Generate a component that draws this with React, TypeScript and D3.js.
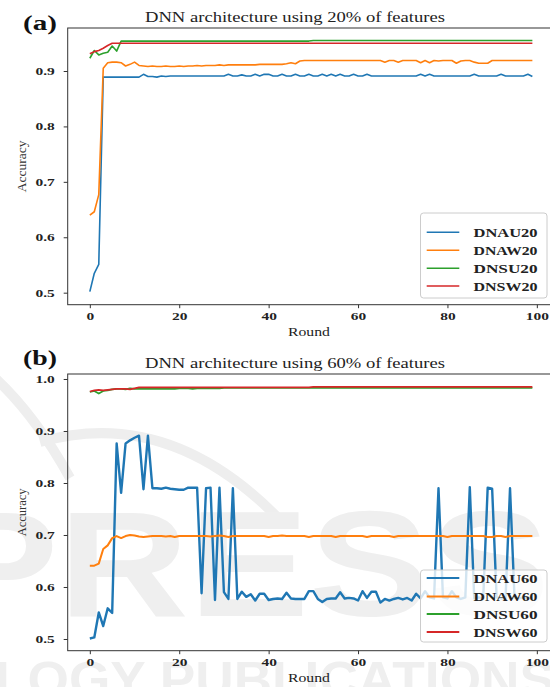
import React, { useEffect, useRef } from 'react';
import * as d3 from 'd3';

const rounds = d3.range(0, 100);
const xTicks = [0, 20, 40, 60, 80, 100];
const yTicksA = [0.5, 0.6, 0.7, 0.8, 0.9];
const yTicksB = [0.5, 0.6, 0.7, 0.8, 0.9, 1.0];

const seriesNamesA = ['DNAU20', 'DNAW20', 'DNSU20', 'DNSW20'];
const seriesNamesB = ['DNAU60', 'DNAW60', 'DNSU60', 'DNSW60'];
const colors = ['#1f77b4', '#ff7f0e', '#2ca02c', '#d62728'];

const DNAU20 = [
  0.502, 0.535, 0.551, 0.889, 0.889, 0.889, 0.889, 0.889, 0.889, 0.889,
  0.889, 0.889, 0.894, 0.890, 0.890, 0.889, 0.891, 0.890, 0.891, 0.891,
  0.891, 0.891, 0.891, 0.891, 0.891, 0.891, 0.891, 0.891, 0.891, 0.891,
  0.891, 0.894, 0.891, 0.891, 0.893, 0.891, 0.891, 0.894, 0.891, 0.894,
  0.894, 0.891, 0.891, 0.894, 0.891, 0.891, 0.894, 0.891, 0.891, 0.894,
  0.891, 0.891, 0.894, 0.891, 0.894, 0.891, 0.894, 0.891, 0.891, 0.894,
  0.891, 0.891, 0.894, 0.891, 0.891, 0.891, 0.891, 0.891, 0.891, 0.891,
  0.891, 0.891, 0.891, 0.891, 0.894, 0.891, 0.894, 0.891, 0.891, 0.891,
  0.891, 0.891, 0.891, 0.891, 0.891, 0.891, 0.894, 0.891, 0.891, 0.891,
  0.891, 0.891, 0.894, 0.891, 0.891, 0.891, 0.891, 0.891, 0.894, 0.890,
];
const DNAW20 = [
  0.640, 0.646, 0.677, 0.905, 0.915, 0.916, 0.916, 0.915, 0.909, 0.912,
  0.916, 0.910, 0.909, 0.908, 0.909, 0.908, 0.908, 0.909, 0.908, 0.908,
  0.909, 0.908, 0.909, 0.909, 0.910, 0.909, 0.910, 0.910, 0.910, 0.911,
  0.910, 0.911, 0.911, 0.911, 0.911, 0.911, 0.911, 0.911, 0.912, 0.912,
  0.912, 0.912, 0.912, 0.912, 0.913, 0.915, 0.913, 0.918, 0.919, 0.919,
  0.919, 0.919, 0.919, 0.919, 0.919, 0.919, 0.919, 0.919, 0.919, 0.919,
  0.919, 0.919, 0.919, 0.919, 0.919, 0.919, 0.916, 0.919, 0.919, 0.916,
  0.919, 0.919, 0.919, 0.919, 0.915, 0.919, 0.915, 0.919, 0.918, 0.919,
  0.919, 0.919, 0.914, 0.918, 0.919, 0.919, 0.916, 0.914, 0.914, 0.914,
  0.919, 0.919, 0.919, 0.919, 0.919, 0.919, 0.919, 0.919, 0.919, 0.919,
];
const DNSU20 = [
  0.923, 0.937, 0.929, 0.932, 0.934, 0.945, 0.936, 0.954, 0.954, 0.954,
  0.954, 0.954, 0.954, 0.954, 0.954, 0.954, 0.954, 0.954, 0.954, 0.954,
  0.954, 0.954, 0.954, 0.954, 0.954, 0.954, 0.954, 0.954, 0.954, 0.954,
  0.954, 0.954, 0.954, 0.954, 0.954, 0.954, 0.954, 0.954, 0.954, 0.954,
  0.954, 0.954, 0.954, 0.954, 0.954, 0.954, 0.954, 0.954, 0.954, 0.954,
  0.955, 0.955, 0.955, 0.955, 0.955, 0.955, 0.955, 0.955, 0.955, 0.955,
  0.955, 0.955, 0.955, 0.955, 0.955, 0.955, 0.955, 0.955, 0.955, 0.955,
  0.955, 0.955, 0.955, 0.955, 0.955, 0.955, 0.955, 0.955, 0.955, 0.955,
  0.955, 0.955, 0.955, 0.955, 0.955, 0.955, 0.955, 0.955, 0.955, 0.955,
  0.955, 0.955, 0.955, 0.955, 0.955, 0.955, 0.955, 0.955, 0.955, 0.955,
];
const DNSW20 = [
  0.931, 0.935, 0.937, 0.941, 0.946, 0.950, 0.950, 0.950, 0.950, 0.950,
  0.950, 0.950, 0.950, 0.950, 0.950, 0.950, 0.950, 0.950, 0.950, 0.950,
  0.950, 0.950, 0.950, 0.950, 0.950, 0.950, 0.950, 0.950, 0.950, 0.950,
  0.950, 0.950, 0.950, 0.950, 0.950, 0.950, 0.950, 0.950, 0.950, 0.950,
  0.950, 0.950, 0.950, 0.950, 0.950, 0.950, 0.950, 0.950, 0.950, 0.950,
  0.950, 0.950, 0.950, 0.950, 0.950, 0.950, 0.950, 0.950, 0.950, 0.950,
  0.950, 0.950, 0.950, 0.950, 0.950, 0.950, 0.950, 0.950, 0.950, 0.950,
  0.950, 0.950, 0.950, 0.950, 0.950, 0.950, 0.950, 0.950, 0.950, 0.950,
  0.950, 0.950, 0.950, 0.950, 0.950, 0.950, 0.950, 0.950, 0.950, 0.950,
  0.950, 0.950, 0.950, 0.950, 0.950, 0.950, 0.950, 0.950, 0.950, 0.950,
];

const DNAU60 = [
  0.501, 0.503, 0.551, 0.525, 0.559, 0.550, 0.876, 0.781, 0.876, 0.882,
  0.887, 0.891, 0.788, 0.891, 0.790, 0.790, 0.789, 0.791, 0.789, 0.788,
  0.787, 0.787, 0.791, 0.791, 0.791, 0.588, 0.790, 0.791, 0.575, 0.791,
  0.590, 0.577, 0.790, 0.577, 0.591, 0.581, 0.586, 0.574, 0.587, 0.587,
  0.575, 0.577, 0.578, 0.577, 0.589, 0.578, 0.577, 0.577, 0.577, 0.592,
  0.592, 0.577, 0.571, 0.577, 0.578, 0.578, 0.590, 0.578, 0.579, 0.578,
  0.574, 0.592, 0.579, 0.591, 0.591, 0.570, 0.577, 0.574, 0.577, 0.579,
  0.576, 0.579, 0.574, 0.587, 0.578, 0.592, 0.580, 0.578, 0.790, 0.580,
  0.578, 0.592, 0.580, 0.577, 0.580, 0.792, 0.578, 0.580, 0.578, 0.791,
  0.789, 0.580, 0.578, 0.578, 0.790, 0.580, 0.578, 0.580, 0.578, 0.580,
];
const DNAW60 = [
  0.641, 0.641, 0.645, 0.673, 0.680, 0.694, 0.698, 0.694, 0.698, 0.700,
  0.699, 0.697, 0.696, 0.697, 0.698, 0.698, 0.698, 0.697, 0.698, 0.696,
  0.698, 0.698, 0.698, 0.698, 0.698, 0.698, 0.698, 0.697, 0.698, 0.699,
  0.698, 0.696, 0.698, 0.698, 0.698, 0.698, 0.698, 0.698, 0.698, 0.698,
  0.696, 0.698, 0.698, 0.699, 0.698, 0.698, 0.698, 0.698, 0.698, 0.696,
  0.698, 0.698, 0.698, 0.698, 0.698, 0.696, 0.698, 0.698, 0.698, 0.698,
  0.698, 0.698, 0.696, 0.698, 0.698, 0.698, 0.698, 0.698, 0.696, 0.698,
  0.698, 0.698, 0.698, 0.698, 0.698, 0.698, 0.698, 0.698, 0.698, 0.698,
  0.696, 0.698, 0.698, 0.698, 0.698, 0.698, 0.698, 0.698, 0.698, 0.696,
  0.696, 0.698, 0.698, 0.696, 0.698, 0.698, 0.698, 0.698, 0.698, 0.698,
];
const DNSU60 = [
  0.975, 0.977, 0.972, 0.977, 0.978, 0.980, 0.981, 0.981, 0.980, 0.982,
  0.981, 0.981, 0.981, 0.981, 0.981, 0.981, 0.981, 0.981, 0.981, 0.981,
  0.982, 0.982, 0.982, 0.981, 0.982, 0.982, 0.982, 0.982, 0.982, 0.982,
  0.983, 0.983, 0.983, 0.983, 0.983, 0.983, 0.983, 0.983, 0.983, 0.983,
  0.983, 0.983, 0.983, 0.983, 0.983, 0.983, 0.983, 0.983, 0.983, 0.983,
  0.983, 0.983, 0.983, 0.983, 0.983, 0.983, 0.983, 0.983, 0.983, 0.983,
  0.983, 0.983, 0.983, 0.983, 0.983, 0.983, 0.983, 0.983, 0.983, 0.983,
  0.983, 0.983, 0.983, 0.983, 0.983, 0.983, 0.983, 0.983, 0.983, 0.983,
  0.983, 0.983, 0.983, 0.983, 0.983, 0.983, 0.983, 0.983, 0.983, 0.983,
  0.983, 0.983, 0.983, 0.983, 0.983, 0.983, 0.983, 0.983, 0.983, 0.983,
];
const DNSW60 = [
  0.976, 0.978, 0.979, 0.978, 0.979, 0.980, 0.981, 0.981, 0.981, 0.980,
  0.982, 0.984, 0.984, 0.984, 0.984, 0.984, 0.984, 0.984, 0.984, 0.984,
  0.984, 0.984, 0.984, 0.984, 0.984, 0.984, 0.984, 0.984, 0.984, 0.984,
  0.984, 0.984, 0.984, 0.984, 0.984, 0.984, 0.984, 0.984, 0.984, 0.984,
  0.984, 0.984, 0.984, 0.984, 0.984, 0.984, 0.984, 0.984, 0.984, 0.984,
  0.985, 0.985, 0.985, 0.985, 0.985, 0.985, 0.985, 0.985, 0.985, 0.985,
  0.985, 0.985, 0.985, 0.985, 0.985, 0.985, 0.985, 0.985, 0.985, 0.985,
  0.985, 0.985, 0.985, 0.985, 0.985, 0.985, 0.985, 0.985, 0.985, 0.985,
  0.985, 0.985, 0.985, 0.985, 0.985, 0.985, 0.985, 0.985, 0.985, 0.985,
  0.985, 0.985, 0.985, 0.985, 0.985, 0.985, 0.985, 0.985, 0.985, 0.985,
];

const SERIF = '"Liberation Serif", "Times New Roman", serif';
const SANS = '"Liberation Sans", Arial, sans-serif';

// the picture is stretched sideways, so widen glyphs a bit
const stretch = (sel, k) => {
  sel.each(function () {
    const w = this.getComputedTextLength();
    d3.select(this).attr('textLength', w * k).attr('lengthAdjust', 'spacingAndGlyphs');
  });
};

const App = () => {
  const svgRef = useRef(null);

  useEffect(() => {
    const svg = d3.select(svgRef.current);
    svg.selectAll('*').remove();

    // faint publisher watermark behind everything
    const wm = svg.append('g').attr('fill', '#efefef').attr('stroke', 'none');
    wm.append('path')
      .attr('d', 'M -5,378 Q 35,415 70,478')
      .attr('fill', 'none').attr('stroke', '#eeeeee').attr('stroke-width', 10);
    wm.append('path')
      .attr('d', 'M 40,442 Q 170,405 282,522')
      .attr('fill', 'none').attr('stroke', '#eeeeee').attr('stroke-width', 10);
    wm.append('text')
      .attr('x', -62).attr('y', 616)
      .attr('font-family', SANS).attr('font-weight', 'bold').attr('font-size', 150)
      .attr('textLength', 612).attr('lengthAdjust', 'spacingAndGlyphs')
      .text('PRESS');
    wm.append('text')
      .attr('x', -5).attr('y', 697)
      .attr('font-family', SANS).attr('font-weight', 'bold').attr('font-size', 50)
      .attr('textLength', 560).attr('lengthAdjust', 'spacingAndGlyphs')
      .text('LOGY PUBLICATIONS');

    const x = d3.scaleLinear().domain([-4.95, 103.95]).range([67.7, 554.5]);

    const drawPanel = (cfg) => {
      const { top, bottom, yDomain, yTicks, series, names, widths, tag, title, tagY, titleY, roundY, accFont, legend } = cfg;
      const y = d3.scaleLinear().domain(yDomain).range([bottom, top]);
      const g = svg.append('g');

      const line = d3.line().x((d, i) => x(rounds[i])).y((d) => y(d));
      series.forEach((s, i) => {
        g.append('path')
          .datum(s)
          .attr('d', line)
          .attr('fill', 'none')
          .attr('stroke', colors[i])
          .attr('stroke-width', widths[i])
          .attr('stroke-linejoin', 'round');
      });

      g.append('rect')
        .attr('x', x.range()[0]).attr('y', top)
        .attr('width', x.range()[1] - x.range()[0]).attr('height', bottom - top)
        .attr('fill', 'none').attr('stroke', '#333').attr('stroke-width', 1);

      const yAxis = g.append('g')
        .attr('transform', `translate(${x.range()[0]},0)`)
        .call(d3.axisLeft(y).tickValues(yTicks).tickSize(4).tickPadding(9).tickFormat(d3.format('.1f')));
      const xAxis = g.append('g')
        .attr('transform', `translate(0,${bottom})`)
        .call(d3.axisBottom(x).tickValues(xTicks).tickSize(3.5).tickPadding(3.7));
      [yAxis, xAxis].forEach((ax) => {
        ax.select('.domain').remove();
        ax.selectAll('line').attr('stroke', '#333');
        ax.selectAll('text')
          .attr('font-family', SERIF).attr('font-weight', 'bold').attr('font-size', 11).attr('fill', '#222');
        stretch(ax.selectAll('text'), 1.4);
      });

      g.append('text')
        .attr('x', 23).attr('y', tagY)
        .attr('font-family', SERIF).attr('font-weight', 'bold').attr('font-size', 20).attr('fill', '#111')
        .attr('textLength', 34).attr('lengthAdjust', 'spacingAndGlyphs')
        .text(tag);
      g.append('text')
        .attr('x', 295).attr('y', titleY)
        .attr('text-anchor', 'middle')
        .attr('font-family', SERIF).attr('font-size', 14).attr('fill', '#222')
        .attr('textLength', 300).attr('lengthAdjust', 'spacingAndGlyphs')
        .text(title);
      g.append('text')
        .attr('x', 309).attr('y', roundY)
        .attr('text-anchor', 'middle')
        .attr('font-family', SERIF).attr('font-size', 12).attr('fill', '#222')
        .attr('textLength', 42).attr('lengthAdjust', 'spacingAndGlyphs')
        .text('Round');
      g.append('text')
        .attr('transform', `translate(25.5,${(top + bottom) / 2}) rotate(-90)`)
        .attr('text-anchor', 'middle')
        .attr('font-family', SERIF).attr('font-size', accFont).attr('fill', '#333')
        .text('Accuracy');

      const lg = g.append('g');
      lg.append('rect')
        .attr('x', 420.5).attr('y', legend.y0)
        .attr('width', 126.5).attr('height', legend.y1 - legend.y0)
        .attr('rx', 3)
        .attr('fill', 'white').attr('fill-opacity', 0.8)
        .attr('stroke', '#cccccc').attr('stroke-width', 1);
      const items = lg.selectAll('.legend-item')
        .data(names)
        .enter()
        .append('g')
        .attr('class', 'legend-item')
        .attr('transform', (d, i) => `translate(0,${legend.rows[i]})`);
      items.append('line')
        .attr('x1', 426.7).attr('x2', 459.3)
        .attr('stroke', (d, i) => colors[i])
        .attr('stroke-width', legend.lw);
      items.append('text')
        .attr('x', 473.5).attr('y', 4.5)
        .attr('font-family', SERIF).attr('font-weight', 'bold').attr('font-size', 12.5).attr('fill', '#222')
        .attr('textLength', 64).attr('lengthAdjust', 'spacingAndGlyphs')
        .text((d) => d);
    };

    drawPanel({
      top: 28, bottom: 304.7,
      yDomain: [0.4783, 0.9776], yTicks: yTicksA,
      series: [DNAU20, DNAW20, DNSU20, DNSW20], names: seriesNamesA,
      widths: [1.6, 1.6, 1.6, 1.6],
      tag: '(a)', title: 'DNN architecture using 20% of features',
      tagY: 30, titleY: 22, roundY: 336, accFont: 13.5,
      legend: { y0: 213, y1: 298, rows: [232.3, 250.2, 268.3, 286], lw: 1.6 },
    });

    drawPanel({
      top: 374, bottom: 650.7,
      yDomain: [0.4775, 1.0096], yTicks: yTicksB,
      series: [DNAU60, DNAW60, DNSU60, DNSW60], names: seriesNamesB,
      widths: [2.4, 2, 1.7, 1.7],
      tag: '(b)', title: 'DNN architecture using 60% of features',
      tagY: 365, titleY: 368.3, roundY: 682, accFont: 12.5,
      legend: { y0: 570, y1: 642, rows: [578, 596.5, 614, 632], lw: 2 },
    });
  }, []);

  return (
    <svg
      ref={svgRef}
      width={550}
      height={687}
      style={{ position: 'absolute', left: 0, top: 0, background: 'white' }}
    />
  );
};

export default App;
